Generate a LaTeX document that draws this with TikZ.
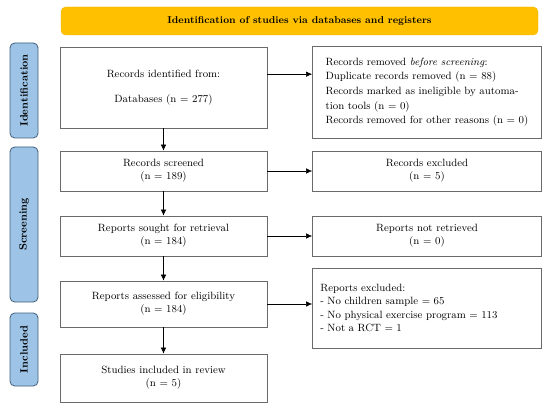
\documentclass[tikz,border=0pt]{standalone}
\usetikzlibrary{arrows.meta}
\definecolor{bannerfill}{HTML}{FFC000}
\definecolor{bannerline}{HTML}{F2B800}
\definecolor{phasefill}{HTML}{9DC3E6}
\definecolor{phaseline}{HTML}{41607C}
\definecolor{boxline}{HTML}{6A6A6A}
\begin{document}
\begin{tikzpicture}[
  font=\fontsize{9}{11}\selectfont,
  >={Latex[length=1.8mm,width=1.6mm]},
  box/.style={draw=boxline, line width=0.7pt, fill=white, align=center, inner sep=2pt},
  lbox/.style={box, minimum width=6.21cm},
  rbox/.style={box, minimum width=6.87cm},
  phase/.style={draw=phaseline, line width=0.7pt, fill=phasefill, rounded corners=4pt, rotate=90, minimum height=0.84cm, font=\fontsize{9}{11}\selectfont\bfseries},
  banner/.style={draw=bannerline, fill=bannerfill, rounded corners=4pt, minimum width=14.31cm, minimum height=0.84cm, font=\fontsize{8.5}{10}\selectfont\bfseries}
]
\useasboundingbox (0,0) rectangle (16.5,-12.3);

\node[banner] (head) at (8.985,-0.63) {Identification of studies via databases and registers};

\node[phase, minimum width=2.85cm] (pid) at (0.72,-2.715) {Identification};
\node[phase, minimum width=4.65cm] (pscr) at (0.72,-6.735) {Screening};
\node[phase, minimum width=2.19cm] (pinc) at (0.72,-10.485) {Included};

\node[lbox, minimum height=2.43cm] (ident) at (4.905,-2.625) {Records identified from:\\[1.1em] Databases (n = 277)};
\node[rbox, minimum height=2.76cm, align=left, font=\fontsize{9}{12.5}\selectfont] (removed) at (12.81,-2.76) {Records removed \textit{before screening}:\\ Duplicate records removed (n = 88)\\ Records marked as ineligible by automa-\\tion tools (n = 0)\\ Records removed for other reasons (n = 0)};

\node[lbox, minimum height=1.2cm] (screened) at (4.905,-5.13) {Records screened\\ (n = 189)};
\node[rbox, minimum height=1.2cm] (excluded) at (12.81,-5.13) {Records excluded\\ (n = 5)};

\node[lbox, minimum height=1.2cm] (sought) at (4.905,-7.08) {Reports sought for retrieval\\ (n = 184)};
\node[rbox, minimum height=1.2cm] (notret) at (12.81,-7.08) {Reports not retrieved\\ (n = 0)};

\node[lbox, minimum height=1.38cm] (assessed) at (4.905,-9.12) {Reports assessed for eligibility\\ (n = 184)};
\node[rbox, minimum height=2.4cm, align=left, text width=6.4cm, font=\fontsize{9}{11.5}\selectfont] (repexcl) at (12.81,-9.24) {Reports excluded:\\ - No children sample = 65\\ - No physical exercise program = 113\\ - Not a RCT = 1};

\node[lbox, minimum height=1.44cm] (included) at (4.905,-11.34) {Studies included in review\\ (n = 5)};

\draw[->] ([yshift=0.4cm]ident.east) -- ([yshift=0.4cm]ident.east -| removed.west);
\draw[->] (screened) -- (excluded);
\draw[->] (sought) -- (notret);
\draw[->] (assessed.east) -- (assessed.east -| repexcl.west);

\draw[->] (ident) -- (screened);
\draw[->] (screened) -- (sought);
\draw[->] (sought) -- (assessed);
\draw[->] (assessed) -- (included);

\end{tikzpicture}
\end{document}
